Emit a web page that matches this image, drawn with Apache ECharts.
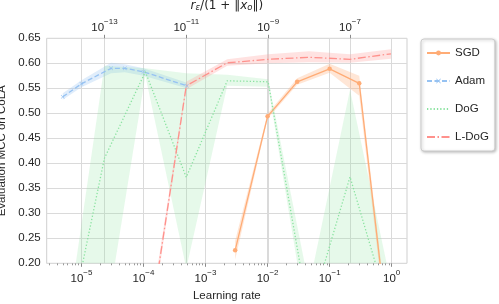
<!DOCTYPE html>
<html>
<head>
<meta charset="utf-8">
<script src="https://cdn.jsdelivr.net/npm/echarts@6/dist/echarts.min.js"></script>
<style>
html,body{margin:0;padding:0;background:#fff;}
#chart{width:499px;height:304px;}
</style>
</head>
<body>
<div id="chart"></div>
<script>
// ---- Data ----
const seriesNames = ['SGD', 'Adam', 'DoG', 'L-DoG'];

// SGD / Adam: plotted against learning rate (bottom axis)
const sgdLR   = [3e-3, 1e-2, 3e-2, 1e-1, 3e-1, 1];
const sgdMCC  = [0.226, 0.494, 0.563, 0.589, 0.560, 0.000];
const sgdLow  = [0.207, 0.489, 0.557, 0.581, 0.535, -0.020];
const sgdHigh = [0.245, 0.499, 0.570, 0.599, 0.575, 0.020];

const adamLR   = [5e-6, 1e-5, 3e-5, 5e-5, 1e-4, 5e-4];
const adamMCC  = [0.533, 0.559, 0.590, 0.590, 0.583, 0.555];
const adamLow  = [0.527, 0.552, 0.580, 0.582, 0.575, 0.550];
const adamHigh = [0.540, 0.566, 0.601, 0.598, 0.590, 0.561];

// DoG / L-DoG: plotted against r_eps/(1+||x0||) (top axis)
const dogR    = [1e-14, 1e-13, 1e-12, 1e-11, 1e-10, 1e-9, 1e-8, 1e-7, 1e-6];
const dogMCC  = [0.015, 0.410, 0.583, 0.372, 0.565, 0.563, 0.095, 0.373, 0.095];
const dogLow  = [0.000, 0.070, 0.575, 0.190, 0.555, 0.553, 0.057, 0.195, 0.030];
const dogHigh = [0.030, 0.595, 0.590, 0.580, 0.577, 0.568, 0.155, 0.547, 0.159];

const ldogR    = [1e-12, 1e-11, 1e-10, 1e-9, 1e-8, 1e-7, 1e-6];
const ldogMCC  = [0.018, 0.555, 0.601, 0.608, 0.612, 0.608, 0.619];
const ldogLow  = [0.000, 0.548, 0.595, 0.600, 0.602, 0.601, 0.609];
const ldogHigh = [0.036, 0.563, 0.608, 0.618, 0.624, 0.618, 0.628];

// Tick positions (exponents)
const bottomTickExp = [-5, -4, -3, -2, -1, 0];
const topTickExp = [-13, -11, -9, -7];

// ---- Helpers ----
const L = Math.log10;
const minorTicks = [];
for (let n = -6; n <= 0; n++) for (let k = 2; k <= 9; k++) minorTicks.push(L(k) + n);

const colors = {
  SGD: '#ffac76', Adam: '#96c2f2', DoG: '#8ae3a0', 'L-DoG': '#ff918c'
};
const bandColors = {
  SGD: 'rgba(255,180,130,0.33)', Adam: 'rgba(161,201,244,0.33)',
  DoG: 'rgba(141,229,161,0.22)', 'L-DoG': 'rgba(255,159,155,0.30)'
};

function supLabel(v) {
  const e = Math.round(v);
  return '{b|10}{s|' + (e < 0 ? '\u2212' + Math.abs(e) : String(e)) + '}';
}
const supRich = {
  b: { fontSize: 11.5, color: '#262626', fontFamily: 'Liberation Sans', padding: [5, 0, 0, 0] },
  s: { fontSize: 8, color: '#262626', fontFamily: 'Liberation Sans', verticalAlign: 'top' }
};

function band(name, xs, lo, hi, axisIdx) {
  return {
    type: 'custom', name: name + ' band', xAxisIndex: axisIdx, yAxisIndex: 0,
    silent: true, z: 1,
    data: [[L(xs[0]), lo[0]]],
    renderItem: function (params, api) {
      const pts = [];
      for (let i = 0; i < xs.length; i++) pts.push(api.coord([L(xs[i]), hi[i]]));
      for (let i = xs.length - 1; i >= 0; i--) pts.push(api.coord([L(xs[i]), lo[i]]));
      const cs = params.coordSys;
      return {
        type: 'polygon', shape: { points: pts },
        style: { fill: bandColors[name] },
        clipPath: { type: 'rect', shape: { x: cs.x, y: cs.y, width: cs.width, height: cs.height } }
      };
    }
  };
}
function line(name, xs, ys, axisIdx, extra) {
  return Object.assign({
    type: 'line', name: name, xAxisIndex: axisIdx, yAxisIndex: 0, z: 3,
    data: xs.map((x, i) => [L(x), ys[i]]),
    symbol: 'none',
    lineStyle: { color: colors[name], width: 1.3 },
    itemStyle: { color: colors[name] },
    emphasis: { disabled: true }
  }, extra || {});
}

const hiddenMark = { opacity: 0, color: 'rgba(0,0,0,0)', borderWidth: 0 };
const gridColor = '#dadada';
const option = {
  animation: false,
  backgroundColor: '#ffffff',
  textStyle: { fontFamily: 'Liberation Sans' },
  grid: { left: 46.7, right: 92, top: 38.3, bottom: 40.7, containLabel: false, outerBoundsMode: 'none',
          show: true, borderColor: '#cfcfcf', borderWidth: 1, backgroundColor: 'transparent' },
  legend: {
    data: [
      { name: 'SGD' }, { name: 'Adam' },
      { name: 'DoG', itemStyle: hiddenMark }, { name: 'L-DoG', itemStyle: hiddenMark }
    ],
    orient: 'vertical', left: 421, top: 39,
    itemWidth: 23, itemHeight: 6, itemGap: 16,
    padding: [8, 6, 8, 5],
    borderColor: '#cccccc', borderWidth: 1, borderRadius: 3, backgroundColor: '#fff',
    shadowColor: 'rgba(0,0,0,0.25)', shadowBlur: 3, shadowOffsetX: 1, shadowOffsetY: 1,
    textStyle: { fontSize: 11.5, color: '#262626', fontFamily: 'Liberation Sans' }
  },
  xAxis: [
    {
      type: 'value', position: 'bottom', min: -5.56, max: 0.247,
      name: 'Learning rate', nameLocation: 'middle', nameGap: 23,
      nameTextStyle: { fontSize: 11.5, color: '#262626', fontFamily: 'Liberation Sans' },
      axisLine: { show: false },
      axisTick: { show: true, customValues: bottomTickExp, length: 3.5, lineStyle: { color: '#8a8a8a' } },
      axisLabel: { customValues: bottomTickExp, formatter: supLabel, rich: supRich, margin: 5 },
      splitLine: { show: true, lineStyle: { color: gridColor, width: 1 } }
    },
    {
      type: 'value', position: 'bottom', min: -5.56, max: 0.247,
      axisLine: { show: false },
      axisTick: { show: true, customValues: minorTicks, length: 2, lineStyle: { color: '#9a9a9a' } },
      axisLabel: { show: false },
      splitLine: { show: false }
    },
    {
      type: 'value', position: 'top', min: -14.41, max: -5.608,
      name: '{i|r}{sub|\u03b5}{n|/(1 + \u2016}{i|x}{sub|o}{n|\u2016)}', nameLocation: 'middle', nameGap: 25,
      nameTextStyle: {
        rich: {
          i: { fontSize: 12, fontStyle: 'italic', color: '#262626', fontFamily: 'DejaVu Sans' },
          n: { fontSize: 12, color: '#262626', fontFamily: 'DejaVu Sans' },
          sub: { fontSize: 8.5, fontStyle: 'italic', color: '#262626', fontFamily: 'DejaVu Sans', verticalAlign: 'bottom', padding: [4, 0, 0, 0] }
        }
      },
      axisLine: { show: false },
      axisTick: { show: true, customValues: topTickExp, length: 3.5, lineStyle: { color: '#8a8a8a' } },
      axisLabel: { customValues: topTickExp, formatter: supLabel, rich: supRich, margin: 4 },
      splitLine: { show: true, lineStyle: { color: gridColor, width: 1 } }
    }
  ],
  yAxis: {
    type: 'value', min: 0.2, max: 0.65, interval: 0.05,
    name: 'Evaluation MCC on CoLA', nameLocation: 'middle', nameGap: 34,
    nameTextStyle: { fontSize: 11.5, color: '#262626', fontFamily: 'Liberation Sans' },
    axisLine: { show: false }, axisTick: { show: false },
    axisLabel: { formatter: v => v.toFixed(2), fontSize: 11.5, color: '#262626', fontFamily: 'Liberation Sans', margin: 6 },
    splitLine: { show: true, lineStyle: { color: gridColor, width: 1 } }
  },
  series: [
    band('SGD', sgdLR, sgdLow, sgdHigh, 0),
    band('Adam', adamLR, adamLow, adamHigh, 0),
    band('DoG', dogR, dogLow, dogHigh, 2),
    band('L-DoG', ldogR, ldogLow, ldogHigh, 2),
    line('SGD', sgdLR, sgdMCC, 0, { symbol: 'circle', symbolSize: 4.5 }),
    line('Adam', adamLR, adamMCC, 0, {
      symbol: 'path://M0,1 L1,0 L5,4 L9,0 L10,1 L6,5 L10,9 L9,10 L5,6 L1,10 L0,9 L4,5 Z',
      symbolSize: 4, lineStyle: { color: colors.Adam, width: 1.3, type: [5, 2.5] }
    }),
    line('DoG', dogR, dogMCC, 2, { lineStyle: { color: colors.DoG, width: 1.3, type: [1.3, 2] } }),
    line('L-DoG', ldogR, ldogMCC, 2, { lineStyle: { color: colors['L-DoG'], width: 1.3, type: [8, 2.5, 1.5, 2.5] } })
  ]
};
const chart = echarts.init(document.getElementById('chart'), null, { renderer: 'canvas' });
chart.setOption(option);
</script>
</body>
</html>
